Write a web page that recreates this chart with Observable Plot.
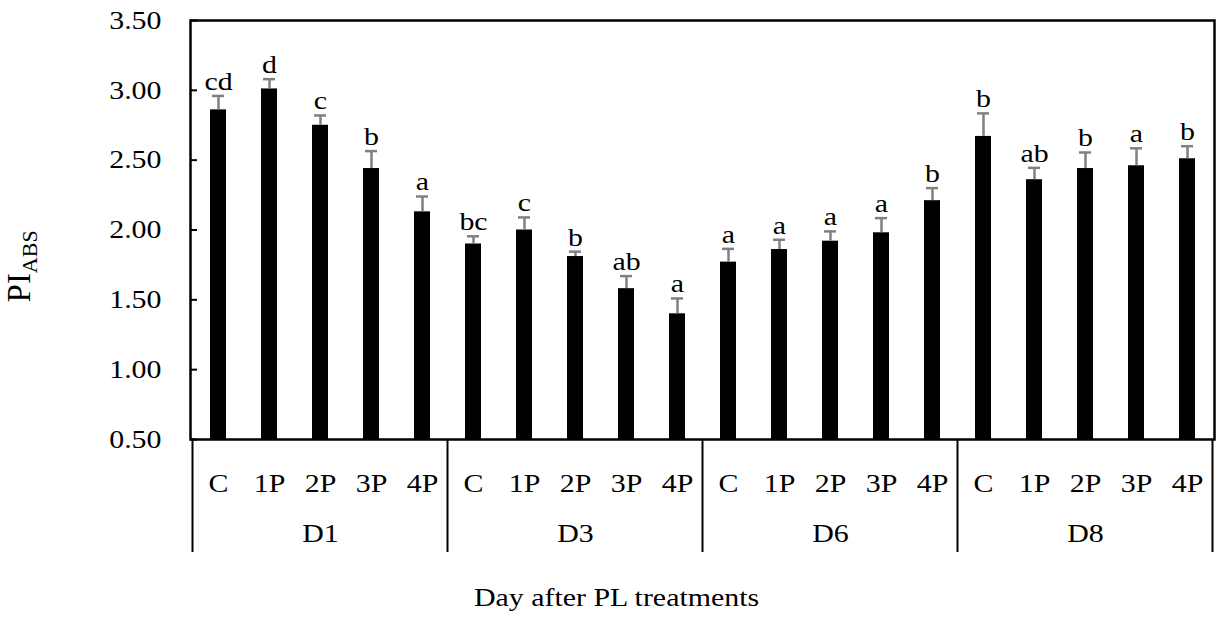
<!DOCTYPE html>
<html>
<head>
<meta charset="utf-8">
<script src="https://cdn.jsdelivr.net/npm/d3@7"></script>
<script src="https://cdn.jsdelivr.net/npm/@observablehq/plot@0.6"></script>
<style>
  html, body { margin: 0; padding: 0; background: #fff; }
</style>
</head>
<body>
<div id="chart"></div>
<script>
// Sampling days and PL treatments
const days = ["D1", "D3", "D6", "D8"];
const treatments = ["C", "1P", "2P", "3P", "4P"];

// Mean PI_ABS per day (rows) and treatment (columns)
const piAbs = [
  [2.86, 3.01, 2.75, 2.44, 2.13],
  [1.90, 2.00, 1.81, 1.58, 1.40],
  [1.77, 1.86, 1.92, 1.98, 2.21],
  [2.67, 2.36, 2.44, 2.46, 2.51]
];

// Standard errors (upper error bars)
const stdErr = [
  [0.10, 0.07, 0.07, 0.125, 0.11],
  [0.055, 0.09, 0.035, 0.09, 0.11],
  [0.095, 0.07, 0.07, 0.105, 0.09],
  [0.165, 0.085, 0.115, 0.125, 0.09]
];

// Significance letters within each day
const letters = [
  ["cd", "d", "c", "b", "a"],
  ["bc", "c", "b", "ab", "a"],
  ["a", "a", "a", "a", "b"],
  ["b", "ab", "b", "a", "b"]
];

// Y-axis ticks
const yTicks = [0.5, 1.0, 1.5, 2.0, 2.5, 3.0, 3.5];
const xTitle = "Day after PL treatments";

const rows = days.flatMap((day, i) => treatments.map((trt, j) => ({
  day, trt, key: `${day} ${trt}`,
  value: piAbs[i][j], err: stdErr[i][j], letter: letters[i][j]
})));

const serif = "'Liberation Serif', 'Times New Roman', serif";
const stretch = 1.15;
const midTreatment = treatments[Math.floor(treatments.length / 2)];

// Vertical dividers between the day groups, running below the axis
function groupDividers(index, scales, values, dims) {
  const x = scales.x;
  const keys = rows.map(d => d.key);
  const bw = x.bandwidth();
  const step = x.step ? x.step() : x(keys[1]) - x(keys[0]);
  const gap = (step - bw) / 2;
  const edges = days.map(d => x(`${d} ${treatments[0]}`) - gap);
  edges.push(x(`${days[days.length - 1]} ${treatments[treatments.length - 1]}`) + bw + gap);
  const y0 = dims.height - dims.marginBottom;
  const g = d3.create("svg:g");
  g.selectAll("line").data(edges).join("line")
    .attr("x1", d => d).attr("x2", d => d)
    .attr("y1", y0).attr("y2", y0 + 113)
    .attr("stroke", "#000").attr("stroke-width", 2);
  return g.node();
}

// Rotated y-axis title with subscript
function yTitle(index, scales, values, dims) {
  const cy = dims.marginTop + (dims.height - dims.marginTop) * 0.41;
  const t = d3.create("svg:text")
    .attr("data-fixed", "1")
    .attr("transform", `translate(${dims.marginLeft - 160},${cy}) rotate(-90)`)
    .attr("text-anchor", "middle")
    .attr("fill", "#000")
    .style("font-size", "33px");
  t.append("tspan").text("PI");
  t.append("tspan").style("font-size", "22px").attr("dy", "0.3em").text("ABS");
  return t.node();
}

const plot = Plot.plot({
  width: 1222,
  height: 621,
  marginTop: 20,
  marginRight: 8,
  marginBottom: 182,
  marginLeft: 190,
  style: {fontFamily: serif, fontSize: "26px", color: "#000", background: "#fff", overflow: "visible"},
  x: {type: "band", domain: rows.map(d => d.key), paddingInner: 0.6875, paddingOuter: 0.34375, label: null},
  y: {domain: [yTicks[0], yTicks[yTicks.length - 1]], label: null},
  marks: [
    Plot.barY(rows, {x: "key", y1: yTicks[0], y2: "value", fill: "#000"}),
    Plot.ruleX(rows, {x: "key", y1: "value", y2: d => d.value + d.err, stroke: "#808080", strokeWidth: 2.5}),
    Plot.tickY(rows, {x: "key", y: d => d.value + d.err, stroke: "#808080", strokeWidth: 2.5, insetLeft: 2, insetRight: 2}),
    Plot.text(rows, {x: "key", y: d => d.value + d.err, text: "letter", lineAnchor: "bottom", dy: -6, fontSize: 26, fill: "#000"}),
    Plot.frame({stroke: "#000", strokeWidth: 2.5}),
    Plot.axisY({ticks: yTicks, tickFormat: d3.format(".2f"), tickSize: -7, tickPadding: 36, strokeWidth: 2, label: null, fontSize: 26}),
    Plot.axisX({tickSize: 0, tickPadding: 34, tickFormat: k => k.split(" ")[1], label: null, fontSize: 26}),
    Plot.text(days, {x: d => `${d} ${midTreatment}`, frameAnchor: "bottom", lineAnchor: "top", dy: 84, text: d => d, fontSize: 26, fill: "#000"}),
    Plot.text([xTitle], {frameAnchor: "bottom", lineAnchor: "top", dy: 148, dx: -86, text: d => d, fontSize: 26, fill: "#000"}),
    groupDividers,
    yTitle
  ]
});

// Widen the serif glyphs horizontally around each label's anchor point
d3.select(plot).selectAll("text").each(function() {
  if (this.getAttribute("data-fixed")) return;
  const t = this.getAttribute("transform") || "";
  this.setAttribute("transform", `${t} scale(${stretch},1)`);
});

document.getElementById("chart").appendChild(plot);
</script>
</body>
</html>
